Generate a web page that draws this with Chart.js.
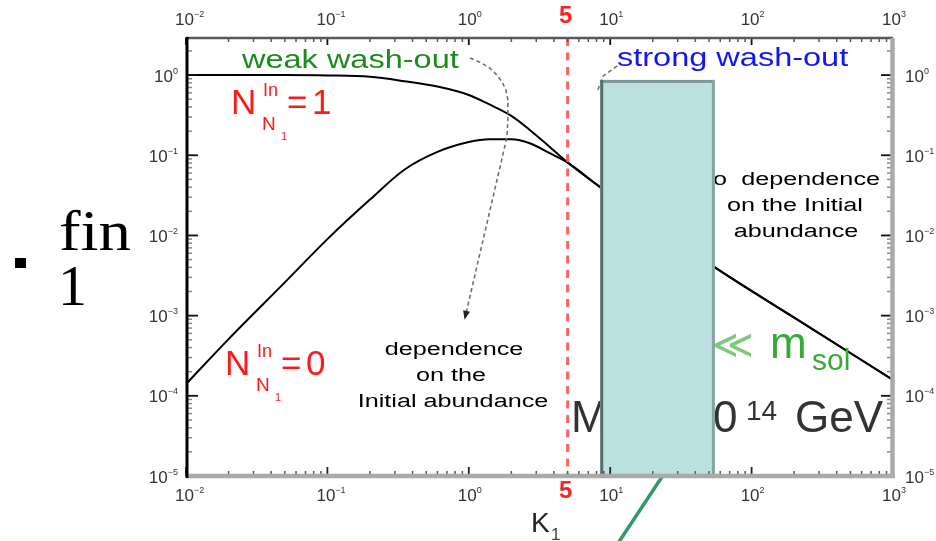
<!DOCTYPE html>
<html>
<head>
<meta charset="utf-8">
<title>Final efficiency factor vs K1</title>
<script src="https://cdn.jsdelivr.net/npm/chart.js@4.4.1/dist/chart.umd.min.js"></script>
<style>
  html, body { margin: 0; padding: 0; background: #fff; }
  #wrap { width: 936px; height: 541px; }
</style>
</head>
<body>
<div id="wrap"><canvas id="kappa" width="936" height="541"></canvas></div>
<script>
// K_1 grid shared by both curves
const K1 = [0.01, 0.02, 0.05, 0.1, 0.2, 0.35, 0.6, 1, 1.4, 2, 2.7, 3.7, 5, 8.5, 55, 190, 1000];
// final efficiency, thermal initial abundance (N_in = 1)
const KAPPA_THERMAL = [1, 1, 1, 0.99, 0.953, 0.84, 0.72, 0.565, 0.43, 0.31, 0.207, 0.129, 0.081, 0.04, 0.0040, 0.001, 0.000158];
// final efficiency, vanishing initial abundance (N_in = 0)
const KAPPA_ZERO = [1.4e-4, 5.1e-4, 2.6e-3, 9.0e-3, 0.028, 0.066, 0.11, 0.146, 0.158, 0.158, 0.141, 0.107, 0.081, 0.04, 0.0040, 0.001, 0.000158];

// decade exponents used for tick labels
const X_DECADES = [-2, -1, 0, 1, 2, 3];
const Y_DECADES = [0, -1, -2, -3, -4, -5];

const K_STAR = 5;            // boundary between the two regimes
const BOX_K = [8.5, 55];     // shaded K range
const BOX_TOP = 0.87;

// dashed guide arrows, as (K, kappa) pairs
const GUIDE_WEAK = [[1.02, 1.63], [1.2, 1.45], [1.41, 1.22], [1.58, 1.0], [1.72, 0.818], [1.83, 0.65],
  [1.89, 0.487], [1.89, 0.274], [1.86, 0.168], [0.94, 9.4e-4]];
const GUIDE_STRONG = [[11.2, 1.3], [8.89, 0.97], [8.07, 0.613]];
const POINTER_K = 23.2;

const SANS = '"Liberation Sans", Arial, sans-serif';
const SERIF = '"Liberation Serif", "Times New Roman", serif';

function text(ctx, str, x, y, o) {
  ctx.save();
  ctx.font = `${o.weight || ''} ${o.size}px ${o.family || SANS}`;
  ctx.fillStyle = o.color || '#000';
  ctx.textBaseline = 'alphabetic';
  const raw = ctx.measureText(str).width;
  const sx = o.width ? o.width / raw : (o.sx || 1);
  const w = raw * sx;
  let left = x;
  if (o.align === 'center') left = x - w / 2;
  else if (o.align === 'right') left = x - w;
  ctx.translate(left, y);
  ctx.scale(sx, 1);
  ctx.fillText(str, 0, 0);
  ctx.restore();
  return w;
}

// "10" with a small raised exponent; cy is the vertical middle of the digits
function powLabel(ctx, exp, x, cy, align) {
  const e = exp < 0 ? '\u2212' + (-exp) : String(exp);
  ctx.save();
  ctx.font = `17px ${SANS}`;
  const wb = ctx.measureText('10').width;
  ctx.font = `9px ${SANS}`;
  const we = ctx.measureText(e).width;
  ctx.restore();
  let left;
  if (align === 'center') left = x - wb / 2;
  else if (align === 'right') left = x - wb - we;
  else left = x;
  text(ctx, '10', left, cy + 6, { size: 17, color: '#333' });
  text(ctx, e, left + wb, cy - 2, { size: 9, color: '#333' });
}

function nLabel(ctx, x, y, val) {
  const red = '#ff1a1a';
  text(ctx, 'N', x, y, { size: 35, color: red });
  text(ctx, 'In', x + 32, y - 18, { size: 18, color: red });
  text(ctx, 'N', x + 31, y + 16, { size: 19, color: red });
  text(ctx, '1', x + 50, y + 26, { size: 11, color: red });
  text(ctx, '=', x + 56, y, { size: 35, color: red });
  text(ctx, val, x + 81, y, { size: 35, color: red });
}

function logTicks(d0, d1) {
  const major = [], minor = [];
  for (let d = d0; d <= d1; d++) {
    major.push(Math.pow(10, d));
    if (d < d1) for (let m = 2; m <= 9; m++) minor.push(m * Math.pow(10, d));
  }
  return { major, minor };
}

const decor = {
  id: 'washoutDecor',
  afterDatasetsDraw(chart) {
    const ctx = chart.ctx;
    const xs = chart.scales.x, ys = chart.scales.y;
    const a = chart.chartArea;
    const px = k => xs.getPixelForValue(k);
    const py = v => ys.getPixelForValue(v);

    // region captions
    text(ctx, 'weak wash-out', 242, 68, { size: 25, sx: 1.3, color: '#1d8a1d' });
    text(ctx, 'strong wash-out', 617, 66, { size: 25, sx: 1.3, color: '#1414f5' });

    text(ctx, 'dependence', 454, 355, { size: 18, sx: 1.4, align: 'center' });
    text(ctx, 'on the', 451, 381, { size: 18, sx: 1.4, align: 'center' });
    text(ctx, 'Initial abundance', 453, 407, { size: 18, sx: 1.4, align: 'center' });

    text(ctx, 'No', 727, 185, { size: 18, sx: 1.4, align: 'right' });
    text(ctx, 'dependence', 880, 185, { size: 18, sx: 1.4, align: 'right' });
    text(ctx, 'on the Initial', 795, 211, { size: 18, sx: 1.4, align: 'center' });
    text(ctx, 'abundance', 796, 237, { size: 18, sx: 1.4, align: 'center' });

    nLabel(ctx, 231, 114, '1');
    nLabel(ctx, 225, 375, '0');

    // mass and light-neutrino conditions
    const grey = '#333';
    text(ctx, 'M', 571, 432, { size: 44, color: grey });
    text(ctx, '1 \u2243', 610, 440, { size: 28, color: grey });
    text(ctx, '1', 689, 432, { size: 44, color: grey });
    text(ctx, '0', 713, 432, { size: 44, color: grey });
    text(ctx, '14', 746, 420, { size: 28, color: grey });
    text(ctx, 'GeV', 795, 432, { size: 44, color: grey });

    text(ctx, '\u226A', 712, 358, { size: 40, color: '#7cc87c', family: '"DejaVu Sans", sans-serif' });
    text(ctx, 'm', 770, 358, { size: 44, color: '#35aa35' });
    text(ctx, 'sol', 812, 370, { size: 30, color: '#35aa35' });

    // K1 = 5 divider
    ctx.save();
    ctx.strokeStyle = 'rgba(255,70,70,0.85)';
    ctx.lineWidth = 3;
    ctx.setLineDash([8, 6.5]);
    ctx.beginPath();
    ctx.moveTo(px(K_STAR), a.top);
    ctx.lineTo(px(K_STAR), a.bottom);
    ctx.stroke();
    ctx.restore();
    text(ctx, '5', px(K_STAR) - 2, 23, { size: 24, weight: 'bold', color: '#ff2020', align: 'center' });
    text(ctx, '5', px(K_STAR) - 2, 498, { size: 24, weight: 'bold', color: '#ff2020', align: 'center' });

    // dashed guides
    ctx.save();
    ctx.strokeStyle = '#6f6f6f';
    ctx.lineWidth = 1.6;
    ctx.setLineDash([4, 3]);
    [GUIDE_WEAK, GUIDE_STRONG].forEach(path => {
      ctx.beginPath();
      path.forEach(([k, v], i) => (i ? ctx.lineTo(px(k), py(v)) : ctx.moveTo(px(k), py(v))));
      ctx.stroke();
    });
    ctx.restore();
    const tip = GUIDE_WEAK[GUIDE_WEAK.length - 1], prev = GUIDE_WEAK[GUIDE_WEAK.length - 2];
    const tx = px(tip[0]), ty = py(tip[1]);
    const ang = Math.atan2(ty - py(prev[1]), tx - px(prev[0]));
    ctx.save();
    ctx.translate(tx, ty);
    ctx.rotate(ang);
    ctx.fillStyle = '#222';
    ctx.beginPath();
    ctx.moveTo(2, 0);
    ctx.lineTo(-7, -3.5);
    ctx.lineTo(-7, 3.5);
    ctx.closePath();
    ctx.fill();
    ctx.restore();

    // shaded K range
    const bx0 = px(BOX_K[0]), bx1 = px(BOX_K[1]), by0 = py(BOX_TOP);
    ctx.fillStyle = '#bcdfe0';
    ctx.fillRect(bx0, by0, bx1 - bx0, a.bottom - by0);
    ctx.fillStyle = '#7b9797';
    ctx.fillRect(bx0, by0, bx1 - bx0, 3);
    ctx.fillStyle = '#586f6f';
    ctx.fillRect(bx0, by0, 3, a.bottom - by0);
    ctx.fillStyle = '#86a4a4';
    ctx.fillRect(bx1 - 3, by0, 3, a.bottom - by0);

    // pointer below the axis
    const gx = px(POINTER_K);
    ctx.save();
    ctx.strokeStyle = '#2f9a68';
    ctx.lineWidth = 3.5;
    ctx.beginPath();
    ctx.moveTo(gx, a.bottom + 1);
    ctx.lineTo(gx - 47, a.bottom + 72);
    ctx.stroke();
    ctx.restore();

    // frame and ticks
    const xt = logTicks(-2, 3), yt = logTicks(-5, 0);
    yt.minor.push(2);
    const tick = (x0, y0, x1, y1, color, w) => {
      ctx.strokeStyle = color; ctx.lineWidth = w;
      ctx.beginPath(); ctx.moveTo(x0, y0); ctx.lineTo(x1, y1); ctx.stroke();
    };
    ctx.save();
    xt.minor.forEach(k => {
      tick(px(k), a.top, px(k), a.top + 4, '#555', 1.5);
      tick(px(k), a.bottom, px(k), a.bottom - 5, '#555', 1.5);
    });
    xt.major.forEach(k => {
      tick(px(k), a.top, px(k), a.top + 7, '#111', 1.8);
      tick(px(k), a.bottom, px(k), a.bottom - 9, '#222', 1.8);
    });
    yt.minor.forEach(v => {
      tick(a.left, py(v), a.left + 6, py(v), '#888', 1.5);
      tick(a.right, py(v), a.right - 6, py(v), '#888', 1.5);
    });
    yt.major.forEach(v => {
      tick(a.left, py(v), a.left + 12, py(v), '#111', 1.8);
      tick(a.right, py(v), a.right - 12, py(v), '#111', 1.8);
    });
    tick(a.left, a.top, a.right, a.top, '#5a5a5a', 2.5);
    tick(a.left, a.bottom, a.right + 2, a.bottom, '#aaaaaa', 4.5);
    tick(a.right - 0.5, a.top, a.right - 0.5, a.bottom + 2, '#aaaaaa', 4.5);
    tick(a.left + 1, a.top - 1, a.left + 1, a.bottom + 2, '#000', 3);
    ctx.restore();

    // tick labels
    X_DECADES.forEach(d => {
      const x = px(Math.pow(10, d)) - 1.5;
      powLabel(ctx, d, x, 18.5, 'center');
      powLabel(ctx, d, x, 495, 'center');
    });
    Y_DECADES.forEach(d => {
      const y = py(Math.pow(10, d)) + 0.5;
      powLabel(ctx, d, 178, y, 'right');
      powLabel(ctx, d, 905, y, 'left');
    });

    // axis title
    text(ctx, 'K', 531, 532, { size: 28, color: '#222' });
    text(ctx, '1', 551, 540, { size: 17, color: '#444' });

    // y-axis symbol
    ctx.fillStyle = '#000';
    ctx.fillRect(15, 258, 11, 10);
    text(ctx, 'fin', 59, 250, { size: 58, family: SERIF, width: 72 });
    text(ctx, '1', 58, 305, { size: 58, family: SERIF });
  }
};

const toPoints = ys => K1.map((k, i) => ({ x: k, y: ys[i] }));

new Chart(document.getElementById('kappa'), {
  type: 'line',
  data: {
    datasets: [
      { label: 'N_in = 1', data: toPoints(KAPPA_THERMAL) },
      { label: 'N_in = 0', data: toPoints(KAPPA_ZERO) }
    ].map(ds => Object.assign(ds, {
      borderColor: '#000',
      borderWidth: 2,
      pointRadius: 0,
      fill: false,
      cubicInterpolationMode: 'monotone'
    }))
  },
  options: {
    responsive: false,
    animation: false,
    devicePixelRatio: 1,
    events: [],
    layout: { padding: { left: 186, right: 43, top: 38, bottom: 65 } },
    scales: {
      x: { type: 'logarithmic', min: 0.01, max: 1000, display: false },
      y: { type: 'logarithmic', min: 1e-5, max: 2.9, display: false }
    },
    plugins: { legend: { display: false }, tooltip: { enabled: false } }
  },
  plugins: [decor]
});
</script>
</body>
</html>
